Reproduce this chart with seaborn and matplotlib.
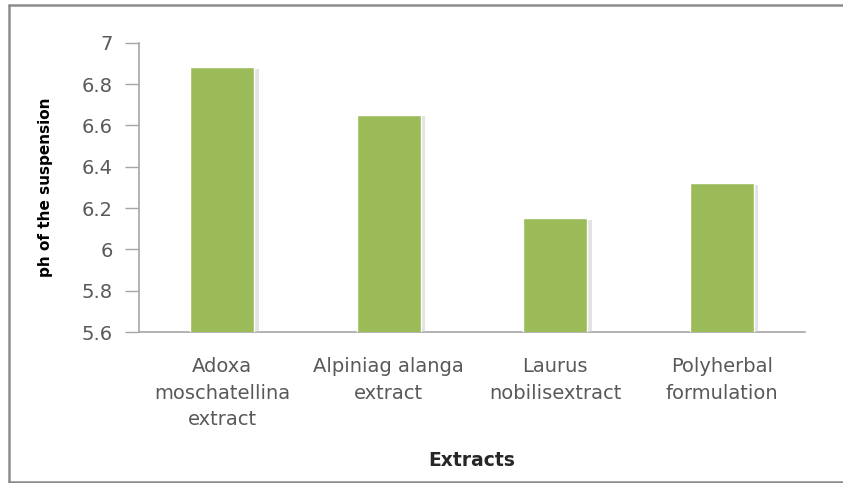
import matplotlib
matplotlib.use("Agg")
import matplotlib.pyplot as plt
import matplotlib.patheffects as pe
import seaborn as sns
import pandas as pd
from matplotlib.lines import Line2D

categories = ["Adoxa\nmoschatellina\nextract", "Alpiniag alanga\nextract",
              "Laurus\nnobilisextract", "Polyherbal\nformulation"]
values = [6.88, 6.65, 6.15, 6.32]
yticks = [5.6, 5.8, 6.0, 6.2, 6.4, 6.6, 6.8, 7.0]
ytick_labels = ["5.6", "5.8", "6", "6.2", "6.4", "6.6", "6.8", "7"]

df = pd.DataFrame({"cat": categories, "val": values})

sns.set_theme(style="white")
plt.rcParams['font.family'] = ['DejaVu Sans']

fig = plt.figure(figsize=(8.43, 4.83), dpi=100)
ax = fig.add_axes([0.165, 0.3126, 0.79, 0.599])

sns.barplot(data=df, x="cat", y="val", color="#9BBB59", saturation=1,
            width=0.385, ax=ax, zorder=3)
for p in ax.patches:
    p.set_path_effects([pe.SimplePatchShadow(offset=(3, -1), shadow_rgbFace="#c8c8c8", alpha=0.5), pe.Normal()])

ax.set_ylim(5.6, 7.0)
ax.set_xlim(-0.5, 3.5)
ax.set_yticks(yticks)
ax.set_yticklabels(ytick_labels)
ax.tick_params(axis="y", colors="#a6a6a6", labelcolor="#595959", labelsize=14,
               length=10, width=1, direction="out", left=True, pad=9)
ax.tick_params(axis="x", labelcolor="#595959", labelsize=14, bottom=False, pad=12)
for lbl in ax.get_xticklabels():
    lbl.set_linespacing(1.5)

for s in ["top", "right"]:
    ax.spines[s].set_visible(False)
for s in ["left", "bottom"]:
    ax.spines[s].set_color("#a6a6a6")
    ax.spines[s].set_linewidth(1.2)

ax.set_ylabel("ph of the suspension", fontsize=11, fontweight="bold", color="#000000")
ax.yaxis.set_label_coords(-0.13, 0.5)
ax.set_xlabel("Extracts", fontsize=13.5, fontweight="bold", color="#262626")
ax.xaxis.set_label_coords(0.5, -0.41)

for xs, ys in [([0.011, 1.0], [0.99, 0.99]), ([0.011, 0.011], [0.002, 0.99]), ([0.011, 1.0], [0.003, 0.003])]:
    fig.add_artist(Line2D(xs, ys, transform=fig.transFigure, color="#8c8c8c", linewidth=1.8))

fig.savefig("out.png", dpi=100)
